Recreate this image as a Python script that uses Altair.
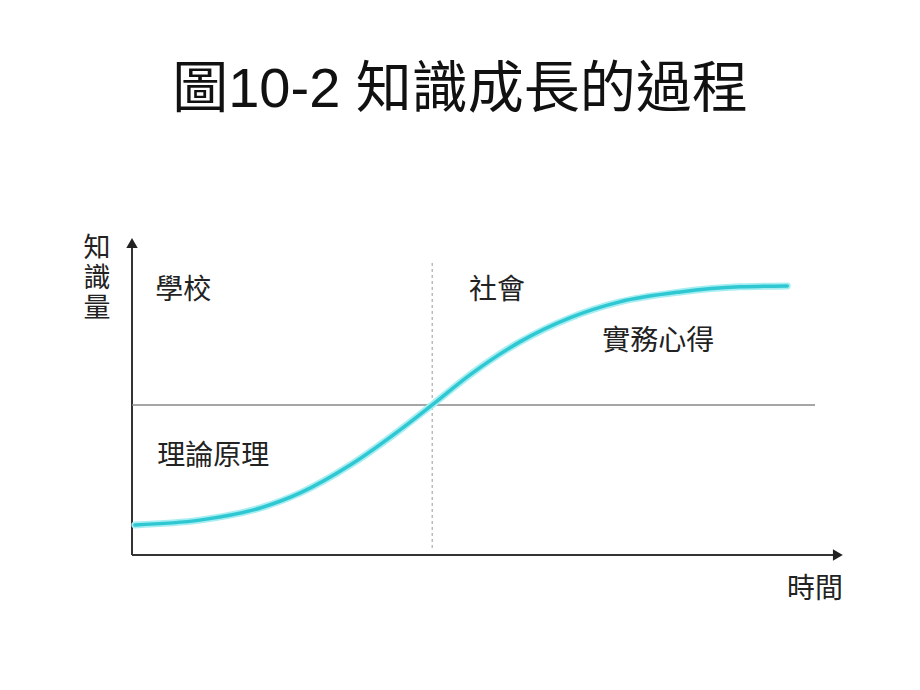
import altair as alt
import pandas as pd

FONT = "Noto Sans CJK TC"
TITLE_FONT = "Liberation Sans, Noto Sans CJK TC"

# S-curve: knowledge growth over time (abstract units 0-100)
time = [0.4, 9.5, 18.0, 23.6, 30.6, 37.6, 42.1, 47.4, 54.4, 61.4, 68.4, 76.9, 85.3, 91.9]
knowledge = [9.4, 10.9, 14.7, 19.4, 28.1, 39.1, 46.9, 56.3, 66.6, 74.1, 79.1, 82.2, 83.8, 84.1]

# annotations
label_text = ["學校", "社會", "實務心得", "理論原理", "時間"]
label_x = [7.2, 51.2, 73.8, 11.4, 95.8]
label_y = [82.5, 82.5, 66.6, 30.6, -11.0]

# vertical axis title, one character per row
ytitle_chars = ["知", "識", "量"]
ytitle_x = [-4.9, -4.9, -4.9]
ytitle_y = [95.6, 86.3, 77.0]

# reference lines
mid_time = 42.1
mid_knowledge = 46.9

X = alt.Scale(domain=[0, 100], range=[132, 845])
Y = alt.Scale(domain=[0, 100], range=[555, 235])

curve_df = pd.DataFrame({"t": time, "k": knowledge})
labels_df = pd.DataFrame({"text": label_text, "x": label_x, "y": label_y})
ytitle_df = pd.DataFrame({"text": ytitle_chars, "x": ytitle_x, "y": ytitle_y})

def xe(f):
    return alt.X(f, type="quantitative", scale=X, axis=None)

def ye(f):
    return alt.Y(f, type="quantitative", scale=Y, axis=None)

axes_df = pd.DataFrame({"x": [0, 0], "y": [0, 0], "x2": [0, 99], "y2": [97, 0]})
axes = alt.Chart(axes_df).mark_rule(color="#333333", strokeWidth=2).encode(
    x=xe("x"), y=ye("y"), x2="x2:Q", y2="y2:Q")

arrow_up = alt.Chart(pd.DataFrame({"x": [0], "y": [97.5]})).mark_point(
    shape="triangle-up", filled=True, color="#222222", size=130, opacity=1
).encode(x=xe("x"), y=ye("y"))
arrow_right = alt.Chart(pd.DataFrame({"x": [99.0], "y": [0]})).mark_point(
    shape="triangle-right", filled=True, color="#222222", size=130, opacity=1
).encode(x=xe("x"), y=ye("y"))

hline = alt.Chart(pd.DataFrame({"x": [0], "x2": [95.8], "y": [mid_knowledge]})).mark_rule(
    color="#888888", strokeWidth=1.5).encode(x=xe("x"), x2="x2:Q", y=ye("y"))
vline = alt.Chart(pd.DataFrame({"x": [mid_time], "y": [2.2], "y2": [91.6]})).mark_rule(
    color="#999999", strokeWidth=1, strokeDash=[3, 3]).encode(x=xe("x"), y=ye("y"), y2="y2:Q")

glow = alt.Chart(curve_df).mark_line(
    color="#A6EEF2", strokeWidth=7, interpolate="monotone", strokeCap="round"
).encode(x=xe("t"), y=ye("k"))
curve = alt.Chart(curve_df).mark_line(
    color="#2FC8D2", strokeWidth=3.5, interpolate="monotone", strokeCap="round"
).encode(x=xe("t"), y=ye("k"))

labels = alt.Chart(labels_df).mark_text(
    font=FONT, fontSize=28, color="#222222", align="center", baseline="middle"
).encode(x=xe("x"), y=ye("y"), text="text:N")

ytitle = alt.Chart(ytitle_df).mark_text(
    font=FONT, fontSize=27, color="#222222", align="center", baseline="middle"
).encode(x=xe("x"), y=ye("y"), text="text:N")

chart = alt.layer(axes, arrow_up, arrow_right, hline, vline, glow, curve, labels, ytitle).properties(
    width=920, height=690,
    autosize=alt.AutoSizeParams(type="none"),
    padding=0,
    background="white",
    title=alt.TitleParams(
        "圖10-2 知識成長的過程", font=TITLE_FONT, fontSize=56, fontWeight="normal",
        color="#111111", anchor="middle", frame="group", offset=-119),
).configure_view(stroke=None)

chart.save("out.html", embed_options={"renderer": "svg", "actions": False})
